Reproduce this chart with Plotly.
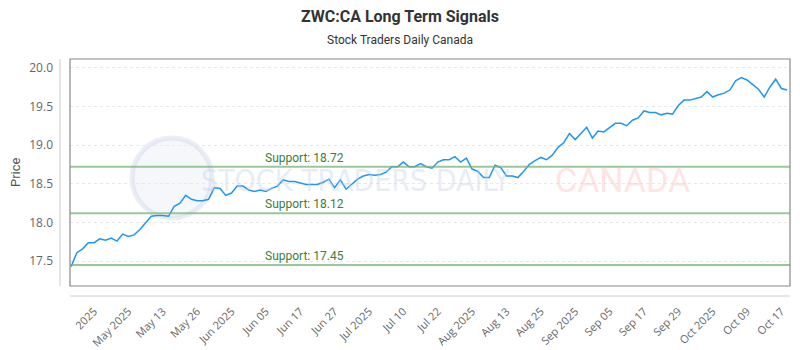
import plotly.graph_objects as go

prices = [17.43, 17.61, 17.66, 17.74, 17.74, 17.79, 17.77, 17.80, 17.76, 17.85,
          17.82, 17.84, 17.91, 17.99, 18.08, 18.09, 18.09, 18.08, 18.21, 18.25,
          18.35, 18.30, 18.28, 18.28, 18.30, 18.45, 18.44, 18.35, 18.38, 18.47,
          18.47, 18.42, 18.40, 18.42, 18.40, 18.44, 18.47, 18.55, 18.53, 18.53,
          18.51, 18.49, 18.49, 18.49, 18.52, 18.56, 18.45, 18.55, 18.43, 18.50,
          18.56, 18.60, 18.62, 18.61, 18.62, 18.65, 18.72, 18.72, 18.78, 18.72,
          18.72, 18.76, 18.72, 18.70, 18.78, 18.81, 18.81, 18.85, 18.78, 18.83,
          18.69, 18.66, 18.58, 18.58, 18.74, 18.71, 18.60, 18.60, 18.58, 18.66,
          18.75, 18.80, 18.84, 18.81, 18.87, 18.97, 19.03, 19.15, 19.07, 19.15,
          19.23, 19.09, 19.18, 19.17, 19.22, 19.28, 19.28, 19.25, 19.32, 19.35,
          19.44, 19.42, 19.42, 19.39, 19.41, 19.40, 19.51, 19.58, 19.58, 19.60,
          19.62, 19.69, 19.62, 19.65, 19.67, 19.71, 19.83, 19.87, 19.84, 19.78,
          19.72, 19.62, 19.75, 19.85, 19.73, 19.71]

tick_labels = ["2025", "May 2025", "May 13", "May 26", "Jun 2025", "Jun 05", "Jun 17",
               "Jun 27", "Jul 2025", "Jul 10", "Jul 22", "Aug 2025", "Aug 13", "Aug 25",
               "Sep 2025", "Sep 05", "Sep 17", "Sep 29", "Oct 2025", "Oct 09", "Oct 17"]
tick_index = [4 + 6 * k for k in range(len(tick_labels))]

supports = [18.72, 18.12, 17.45]
y_ticks = [17.5, 18.0, 18.5, 19.0, 19.5, 20.0]

x_idx = list(range(len(prices)))

PW, PH, L, T = 720, 227, 70, 59


def px(x):
    return (x - L) / PW


def py(y):
    return (T + PH - y) / PH


fig = go.Figure()

fig.add_trace(go.Scatter(x=x_idx, y=prices, mode="lines",
                         line=dict(color="#2196f3", width=1.5),
                         hoverinfo="skip", showlegend=False))

shapes = []
annotations = []

WM_FONT = "Liberation Sans Narrow, DejaVu Sans Condensed, Roboto"

# watermark logo circle
shapes.append(dict(type="circle", xref="paper", yref="paper",
                   x0=px(132), x1=px(212), y0=py(218), y1=py(138),
                   line=dict(color="rgba(190,200,225,0.3)", width=5),
                   fillcolor="rgba(225,230,242,0.3)", layer="below"))
annotations.append(dict(xref="paper", yref="paper", x=px(355), y=py(180),
                        text="STOCK TRADERS DAILY", showarrow=False,
                        font=dict(family=WM_FONT, size=30, color="rgba(195,207,230,0.4)"),
                        xanchor="center", yanchor="middle"))
annotations.append(dict(xref="paper", yref="paper", x=px(622), y=py(180),
                        text="CANADA", showarrow=False,
                        font=dict(family="Roboto", size=34, color="rgba(255,195,195,0.45)"),
                        xanchor="center", yanchor="middle"))

# support lines and labels
for s in supports:
    shapes.append(dict(type="line", xref="paper", yref="y", x0=0, x1=1, y0=s, y1=s,
                       line=dict(color="rgba(120,180,120,0.75)", width=2), layer="above"))
    annotations.append(dict(xref="x", yref="y", x=40.8, y=s, text=f"Support: {s:.2f}",
                            showarrow=False, yanchor="bottom", xanchor="center", yshift=0,
                            font=dict(family="Roboto", size=12, color="#3b7d3b")))

# plot frame
shapes.append(dict(type="rect", xref="paper", yref="paper", x0=0, x1=1, y0=0, y1=1,
                   line=dict(color="#888888", width=1.2), layer="above"))
# offset axis lines
shapes.append(dict(type="line", xref="paper", yref="paper", x0=px(60), x1=px(60),
                   y0=0, y1=1, line=dict(color="#cccccc", width=1)))
shapes.append(dict(type="line", xref="paper", yref="paper", x0=0, x1=1,
                   y0=py(296), y1=py(296), line=dict(color="#cccccc", width=1)))

# titles
annotations.append(dict(xref="paper", yref="paper", x=px(400),
                        y=py(16), text="<b>ZWC:CA Long Term Signals</b>", showarrow=False,
                        font=dict(family="Roboto", size=16, color="#333333"),
                        xanchor="center", yanchor="middle"))
annotations.append(dict(xref="paper", yref="paper", x=px(400), y=py(40),
                        text="Stock Traders Daily Canada", showarrow=False,
                        font=dict(family="Roboto", size=12, color="#333333"),
                        xanchor="center", yanchor="middle"))
annotations.append(dict(xref="paper", yref="paper", x=px(15), y=py(172),
                        text="Price", showarrow=False, textangle=-90,
                        font=dict(family="Roboto", size=13, color="#555555"),
                        xanchor="center", yanchor="middle"))

fig.update_layout(
    width=800, height=350,
    margin=dict(l=L, r=800 - L - PW, t=T, b=350 - T - PH),
    paper_bgcolor="white", plot_bgcolor="white",
    shapes=shapes, annotations=annotations,
    xaxis=dict(range=[-0.2, 125.5], tickmode="array", tickvals=tick_index, ticktext=tick_labels,
               tickangle=-45, showgrid=False, zeroline=False, showline=False, ticks="",
               ticklabelstandoff=16, automargin=False,
               tickfont=dict(family="Open Sans", size=11, color="#666666")),
    yaxis=dict(range=[17.18, 20.111], tickmode="array", tickvals=y_ticks,
               ticktext=[f"{v:.1f}" for v in y_ticks], automargin=False,
               showgrid=True, gridcolor="#e8e8e8", griddash="dot", gridwidth=1,
               zeroline=False, showline=False, ticks="", ticklabelstandoff=16,
               tickfont=dict(family="Open Sans", size=12, color="#666666")),
)

fig.write_html("out.html")
